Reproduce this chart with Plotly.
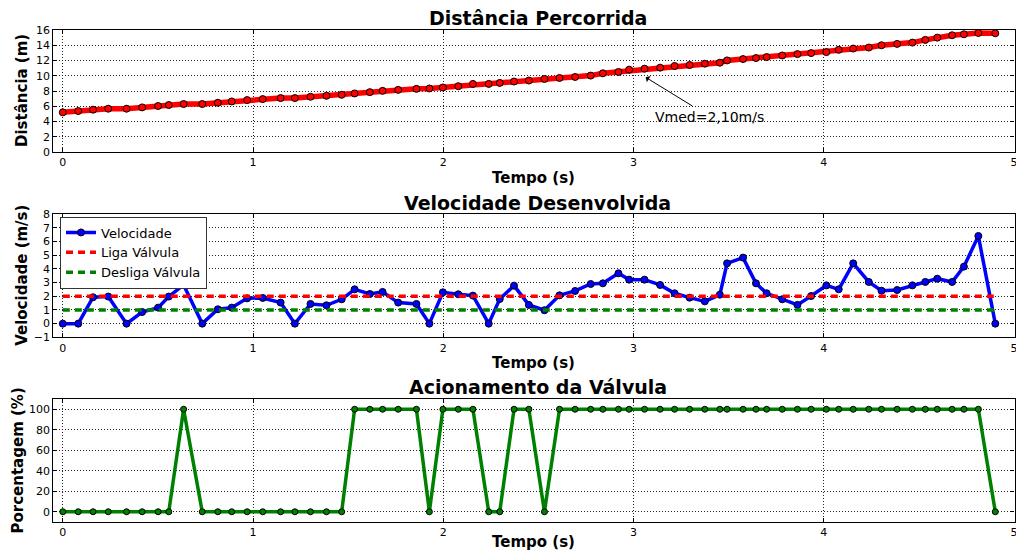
import plotly.graph_objects as go

# ---- data ----
tempo = [0.000, 0.081, 0.159, 0.239, 0.335, 0.417, 0.501, 0.557, 0.635, 0.733,
         0.815, 0.888, 0.969, 1.051, 1.145, 1.220, 1.302, 1.386, 1.466, 1.534,
         1.614, 1.681, 1.763, 1.859, 1.927, 1.998, 2.079, 2.156, 2.239, 2.297,
         2.372, 2.450, 2.532, 2.611, 2.693, 2.775, 2.839, 2.921, 2.977, 3.058,
         3.140, 3.216, 3.295, 3.375, 3.454, 3.492, 3.576, 3.644, 3.700, 3.782,
         3.862, 3.934, 4.014, 4.079, 4.155, 4.237, 4.304, 4.386, 4.466, 4.534,
         4.597, 4.675, 4.737, 4.813, 4.902]

distancia = [5.20, 5.37, 5.55, 5.68, 5.68, 5.85, 6.03, 6.16, 6.29, 6.29,
             6.46, 6.63, 6.81, 6.94, 7.07, 7.07, 7.24, 7.37, 7.50, 7.68,
             7.85, 8.02, 8.15, 8.28, 8.33, 8.46, 8.63, 8.93, 8.93, 9.06,
             9.24, 9.37, 9.58, 9.71, 9.84, 10.02, 10.32, 10.50, 10.80, 10.93,
             11.06, 11.28, 11.41, 11.58, 11.71, 12.01, 12.19, 12.32, 12.45, 12.66,
             12.84, 12.97, 13.10, 13.40, 13.57, 13.70, 14.00, 14.18, 14.35, 14.70,
             15.00, 15.31, 15.44, 15.61, 15.57]

velocidade = [0.00, 0.00, 1.93, 1.98, 0.00, 0.85, 1.17, 1.98, 2.83, 0.00,
              1.05, 1.17, 1.85, 1.88, 1.54, 0.00, 1.44, 1.34, 1.78, 2.51,
              2.17, 2.32, 1.54, 1.44, 0.00, 2.29, 2.15, 2.05, 0.00, 1.80,
              2.78, 1.37, 0.98, 2.07, 2.39, 2.90, 2.95, 3.68, 3.22, 3.22,
              2.83, 2.22, 1.90, 1.63, 2.12, 4.41, 4.83, 2.95, 2.22, 1.78,
              1.37, 2.02, 2.80, 2.51, 4.41, 3.05, 2.41, 2.46, 2.80, 3.05,
              3.29, 3.05, 4.17, 6.41, 0.00]

acionamento = [0, 0, 0, 0, 0, 0, 0, 0, 100, 0,
               0, 0, 0, 0, 0, 0, 0, 0, 0, 100,
               100, 100, 100, 100, 0, 100, 100, 100, 0, 0,
               100, 100, 0, 100, 100, 100, 100, 100, 100, 100,
               100, 100, 100, 100, 100, 100, 100, 100, 100, 100,
               100, 100, 100, 100, 100, 100, 100, 100, 100, 100,
               100, 100, 100, 100, 0]

liga_valvula = 2
desliga_valvula = 1
vmed_texto = "Vmed=2,10m/s"

titulos = ["Distância Percorrida", "Velocidade Desenvolvida", "Acionamento da Válvula"]
ylabels = ["Distância (m)", "Velocidade (m/s)", "Porcentagem (%)"]
xlabel = "Tempo (s)"

# ---- figure ----
OFF = 8  # page body margin
W, H = 1024 - 2 * OFF, 558 - 2 * OFF   # keep the page free of overflow / scrollbars
FONT = "DejaVu Sans"
fig = go.Figure()

fig.add_trace(go.Scatter(x=tempo, y=distancia, mode="lines+markers", xaxis="x", yaxis="y",
                         line=dict(color="red", width=5.5),
                         marker=dict(color="red", size=7, line=dict(color="black", width=1)),
                         showlegend=False))

fig.add_trace(go.Scatter(x=tempo, y=velocidade, mode="lines+markers", xaxis="x2", yaxis="y2",
                         name="Velocidade",
                         line=dict(color="#0000ff", width=3.5),
                         marker=dict(color="#0000ff", size=7, line=dict(color="black", width=1))))
fig.add_trace(go.Scatter(x=[tempo[0], tempo[-1]], y=[liga_valvula] * 2, mode="lines",
                         xaxis="x2", yaxis="y2", name="Liga Válvula",
                         line=dict(color="red", width=3.5, dash="7px,5px")))
fig.add_trace(go.Scatter(x=[tempo[0], tempo[-1]], y=[desliga_valvula] * 2, mode="lines",
                         xaxis="x2", yaxis="y2", name="Desliga Válvula",
                         line=dict(color="green", width=3.5, dash="7px,5px")))

fig.add_trace(go.Scatter(x=tempo, y=acionamento, mode="lines+markers", xaxis="x3", yaxis="y3",
                         line=dict(color="green", width=3.5),
                         marker=dict(color="green", size=6, line=dict(color="black", width=1)),
                         showlegend=False))

# pixel helpers (reference page pixels -> paper coords)
def px_x(p):
    return (p - OFF) / W

def px_y(p):
    return 1 - (p - OFF) / H

frames = [(30, 152), (214.3, 337.3), (399, 522)]
yranges = [[0, 16], [-1, 8], [-10, 110]]
ytickvals = [list(range(0, 17, 2)), list(range(-1, 9)), list(range(0, 101, 20))]
x0, x1 = 53.3, 1014.5

axis_common = dict(showline=True, linecolor="black", linewidth=1.2, mirror="ticks",
                   ticks="inside", ticklen=4, tickcolor="black", automargin=False,
                   ticklabeloverflow="allow",
                   showgrid=True, gridcolor="#222", gridwidth=1, griddash="1px,2px",
                   zeroline=False, tickfont=dict(family=FONT, size=11, color="black"))

layout = dict(width=W, height=H, margin=dict(l=0, r=0, t=0, b=0, autoexpand=False),
              plot_bgcolor="white", paper_bgcolor="white",
              font=dict(family=FONT, color="black"))

for i, (top, bot) in enumerate(frames):
    sfx = "" if i == 0 else str(i + 1)
    layout["xaxis" + sfx] = dict(axis_common, domain=[px_x(x0), px_x(x1)], range=[-0.05, 5.003],
                                 tickvals=[0, 1, 2, 3, 4, 5], anchor="y" + sfx)
    layout["yaxis" + sfx] = dict(axis_common, domain=[px_y(bot), px_y(top)], range=yranges[i],
                                 tickvals=ytickvals[i], anchor="x" + sfx)

layout["legend"] = dict(x=px_x(60), y=px_y(216.5), xanchor="left", yanchor="top",
                        bgcolor="white", bordercolor="#333", borderwidth=1,
                        font=dict(family=FONT, size=13, color="black"),
                        itemwidth=30, tracegroupgap=0)
fig.update_layout(**layout)

cx = (x0 + x1) / 2
ann = []
title_y = [18, 203, 387]
xlabel_y = [178, 363, 542]
ylabel_x = [22, 22, 17]
for i in range(3):
    ann.append(dict(text="<b>%s</b>" % titulos[i], x=px_x(cx + 4), y=px_y(title_y[i]),
                    xref="paper", yref="paper", showarrow=False,
                    xanchor="center", yanchor="middle",
                    font=dict(family=FONT, size=19, color="black")))
    ann.append(dict(text="<b>%s</b>" % xlabel, x=px_x(cx), y=px_y(xlabel_y[i]),
                    xref="paper", yref="paper", showarrow=False,
                    xanchor="center", yanchor="middle",
                    font=dict(family=FONT, size=15, color="black")))
    ym = (frames[i][0] + frames[i][1]) / 2
    ann.append(dict(text="<b>%s</b>" % ylabels[i], x=px_x(ylabel_x[i]), y=px_y(ym),
                    xref="paper", yref="paper", showarrow=False, textangle=-90,
                    xanchor="center", yanchor="middle",
                    font=dict(family=FONT, size=15, color="black")))

ann.append(dict(text="", x=3.064, y=9.8, xref="x", yref="y", ax=3.318, ay=5.9,
                axref="x", ayref="y", showarrow=True, arrowhead=1, arrowsize=1.2,
                arrowwidth=1, arrowcolor="black"))
ann.append(dict(text=vmed_texto, x=3.105, y=4.55, xref="x", yref="y", xanchor="left",
                yanchor="middle", showarrow=False,
                font=dict(family=FONT, size=14, color="black")))
fig.update_layout(annotations=ann)

fig.write_html("out.html")
